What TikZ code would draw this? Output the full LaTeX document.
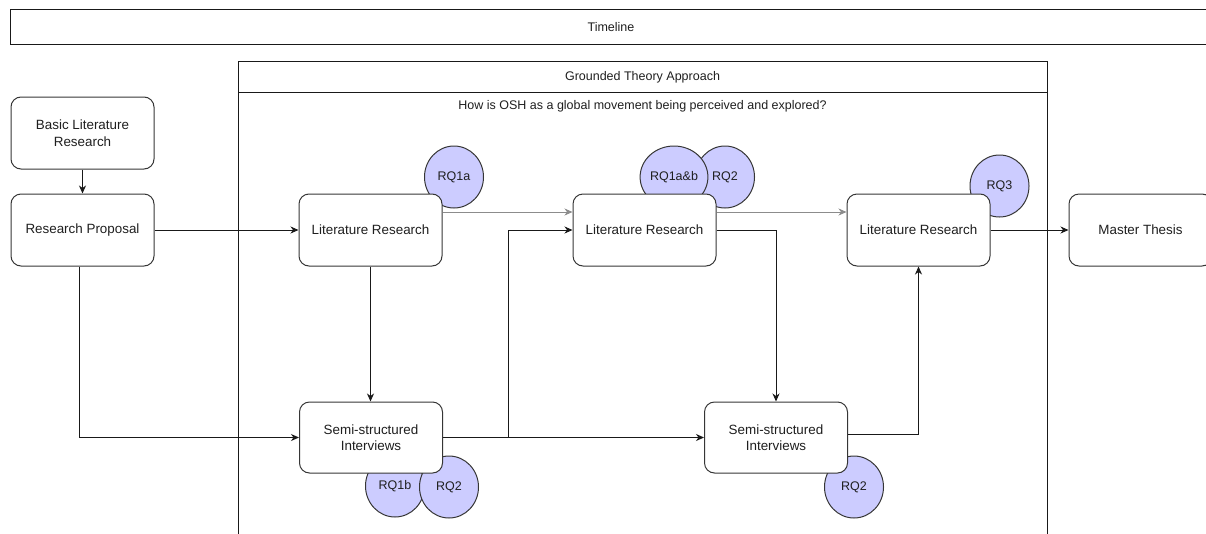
\documentclass[tikz,border=0pt]{standalone}
\usepackage{fontspec}
\setmainfont{Liberation Sans}
\usetikzlibrary{arrows.meta,shapes.geometric}
\definecolor{rqfill}{HTML}{CCCCFF}
\definecolor{edge}{HTML}{363636}
\begin{document}
\begin{tikzpicture}[x=1pt,y=-1pt,
  every node/.style={font=\fontsize{12.5}{16.5}\selectfont, text=black!88},
  stepbox/.style={draw=edge, line width=1pt, fill=white, rounded corners=10pt,
    minimum width=143pt, minimum height=72pt, align=center, inner sep=0pt,
    font=\fontsize{13.4}{16.5}\selectfont},
  rq/.style={draw=edge, line width=1pt, fill=rqfill, ellipse,
    minimum width=59pt, minimum height=62pt, inner sep=0pt},
  arr/.style={draw=black!90, line width=1pt, -{Stealth[length=8pt,width=7pt,inset=2.5pt]}},
  faint/.style={arr, draw=black!45},
  frame/.style={draw=black!90, line width=1pt}
]
\useasboundingbox (0,0) rectangle (1206,533);
\clip (0,0) rectangle (1206,533);

% timeline band
\draw[frame] (10.7,9.3) rectangle (1215,44.7);
\node (tl) at (611,27) {Timeline};

% grounded theory container with its header row
\draw[frame] (238,61) rectangle (1047,545);
\draw[frame] (238,92) -- (1047,92);
\node (gt) at (642.5,77) {Grounded Theory Approach};
\node (question) at (642.5,106) {How is OSH as a global movement being perceived and explored?};

% research question tags
\node[rq] (q1a) at (454,177) {RQ1a};
\node[rq] (q2a) at (725,177) {RQ2};
\node[rq] (q1ab) at (674,177) {RQ1a\&b};
\node[rq] (q3) at (999.5,186) {RQ3};
\node[rq] (q1b) at (395,486) {RQ1b};
\node[rq] (q2b) at (449,487) {RQ2};
\node[rq] (q2c) at (854,487) {RQ2};

% process steps
\node[stepbox] (bl) at (82.5,133) {Basic Literature\\Research};
\node[stepbox] (rp) at (82.5,230) {Research Proposal};
\node[stepbox] (lr1) at (370.5,230) {Literature Research};
\node[stepbox] (lr2) at (644.5,230) {Literature Research};
\node[stepbox] (lr3) at (918.5,230) {Literature Research};
\node[stepbox] (mt) at (1140.5,230) {Master Thesis};
\node[stepbox, minimum height=71pt] (ss1) at (371,437.5) {Semi-structured\\Interviews};
\node[stepbox, minimum height=71pt] (ss2) at (776,437.5) {Semi-structured\\Interviews};

% connectors
\coordinate (j) at (508,437.5);
\draw[arr] (bl) -- (rp);
\draw[arr] (rp) -- (lr1);
\draw[arr] ([xshift=-3.5pt]rp.south) |- (ss1.west);
\draw[arr] (lr1.south) -- (lr1.south |- ss1.north);
\draw[arr] (ss1.east) -- (ss2.west);
\draw[arr] (j) |- (lr2.west);
\draw[arr] (lr2.east) -| (ss2.north);
\draw[arr] ([yshift=3.5pt]ss2.east) -| (lr3.south);
\draw[faint] ([yshift=18pt]lr1.east) -- ([yshift=18pt]lr2.west);
\draw[faint] ([yshift=18pt]lr2.east) -- ([yshift=18pt]lr3.west);
\draw[arr] (lr3) -- (mt);
\end{tikzpicture}
\end{document}
